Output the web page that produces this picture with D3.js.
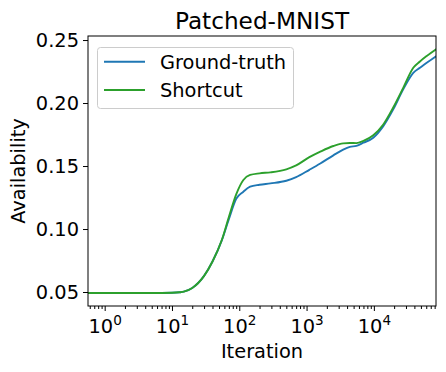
<!DOCTYPE html>
<html>
<head>
<meta charset="utf-8">
<script src="https://cdn.jsdelivr.net/npm/d3@7"></script>
<style>
  body { margin: 0; background: #fff; }
  svg { font-family: "DejaVu Sans", sans-serif; }
</style>
</head>
<body>
<div id="chart"></div>
<script>
// Données
const iterations = [0.5, 1, 2, 5, 10, 13, 15, 20, 30, 40, 55, 70, 90, 115, 145, 200, 290, 500, 700, 1100, 1600, 2500, 3500, 4400, 5500, 7000, 9800, 13800, 19400, 27300, 38500, 48400, 61000, 86000];
const groundTruth = [0.0492, 0.0492, 0.0492, 0.0492, 0.0494, 0.0498, 0.0503, 0.0532, 0.0628, 0.0742, 0.091, 0.1078, 0.124, 0.1296, 0.1336, 0.1351, 0.1362, 0.1383, 0.1412, 0.147, 0.152, 0.1585, 0.163, 0.1652, 0.166, 0.1685, 0.1725, 0.1817, 0.195, 0.2109, 0.224, 0.228, 0.232, 0.2375];
const shortcut = [0.0492, 0.0492, 0.0492, 0.0492, 0.0494, 0.0498, 0.0503, 0.0532, 0.0628, 0.0742, 0.0913, 0.1095, 0.1275, 0.1389, 0.1429, 0.1442, 0.145, 0.1474, 0.1505, 0.157, 0.1614, 0.1659, 0.168, 0.1683, 0.1682, 0.17, 0.1745, 0.183, 0.1965, 0.212, 0.228, 0.233, 0.2373, 0.243];
const seriesNames = ["Ground-truth", "Shortcut"];
const seriesColors = ["#1f77b4", "#2ca02c"];
const yTicks = [0.05, 0.10, 0.15, 0.20, 0.25];
const xTicks = [1, 10, 100, 1000, 10000];

const width = 446, height = 372;
const margin = { top: 36, right: 10, bottom: 66, left: 88 };
const chartWidth = width - margin.left - margin.right;
const chartHeight = height - margin.top - margin.bottom;
const fs = 19.4;

const svg = d3.select("#chart").append("svg")
  .attr("width", width)
  .attr("height", height);

const g = svg.append("g")
  .attr("transform", `translate(${margin.left},${margin.top})`);

// Échelles
const x = d3.scaleLog().domain([0.565, 83800]).range([0, chartWidth]);
const y = d3.scaleLinear().domain([0.0389, 0.2532]).range([chartHeight, 0]);

g.append("clipPath").attr("id", "clip")
  .append("rect").attr("width", chartWidth).attr("height", chartHeight);

// Courbes
const series = [groundTruth, shortcut];
const line = d3.line()
  .x((d, i) => x(iterations[i]))
  .y((d) => y(d))
  .curve(d3.curveMonotoneX);

series.forEach((s, k) => {
  g.append("path")
    .datum(s)
    .attr("clip-path", "url(#clip)")
    .attr("fill", "none")
    .attr("stroke", seriesColors[k])
    .attr("stroke-width", 1.9)
    .attr("d", line);
});

// Cadre
g.append("rect")
  .attr("width", chartWidth)
  .attr("height", chartHeight)
  .attr("fill", "none")
  .attr("stroke", "#000")
  .attr("stroke-width", 1);

// Axe Y
const yAxis = g.append("g")
  .call(d3.axisLeft(y).tickValues(yTicks).tickFormat(d3.format(".2f")).tickSize(5).tickPadding(4));
yAxis.select(".domain").remove();
yAxis.selectAll("text").attr("font-size", fs).attr("font-family", "DejaVu Sans").attr("fill", "#000");

// Axe X (ticks majeurs + mineurs)
const minorTicks = [];
for (let e = -1; e <= 4; e++) {
  for (let m = 2; m <= 9; m++) {
    const v = m * Math.pow(10, e);
    if (v >= x.domain()[0] && v <= x.domain()[1]) minorTicks.push(v);
  }
}
const xMinor = g.append("g")
  .attr("transform", `translate(0,${chartHeight})`)
  .call(d3.axisBottom(x).tickValues(minorTicks).tickFormat("").tickSize(3));
xMinor.select(".domain").remove();

const xAxis = g.append("g")
  .attr("transform", `translate(0,${chartHeight})`)
  .call(d3.axisBottom(x).tickValues(xTicks).tickFormat("").tickSize(5));
xAxis.select(".domain").remove();

xAxis.selectAll(".tick").each(function (d) {
  const t = d3.select(this).append("text")
    .attr("y", 27)
    .attr("fill", "#000")
    .attr("font-size", fs)
    .attr("font-family", "DejaVu Sans")
    .attr("text-anchor", "middle");
  t.append("tspan").text("10");
  t.append("tspan").attr("dy", -8).attr("font-size", 13.6).text(Math.round(Math.log10(d)));
});

// Titres
svg.append("text")
  .attr("x", margin.left + chartWidth / 2)
  .attr("y", 29)
  .attr("text-anchor", "middle")
  .attr("font-size", 23.2)
  .text("Patched-MNIST");

svg.append("text")
  .attr("x", margin.left + chartWidth / 2)
  .attr("y", 358)
  .attr("text-anchor", "middle")
  .attr("font-size", fs)
  .text("Iteration");

svg.append("text")
  .attr("transform", `translate(25,${margin.top + chartHeight / 2}) rotate(-90)`)
  .attr("text-anchor", "middle")
  .attr("font-size", fs)
  .text("Availability");

// Légende
const legend = svg.append("g");
legend.append("rect")
  .attr("x", 97.5).attr("y", 47.5)
  .attr("width", 196).attr("height", 61)
  .attr("rx", 3)
  .attr("fill", "#fff").attr("fill-opacity", 0.8)
  .attr("stroke", "#cccccc");

seriesNames.forEach((name, k) => {
  const ly = 61.7 + k * 28.3;
  legend.append("line")
    .attr("x1", 104).attr("x2", 145)
    .attr("y1", ly).attr("y2", ly)
    .attr("stroke", seriesColors[k])
    .attr("stroke-width", 1.9);
  legend.append("text")
    .attr("x", 160).attr("y", ly + 7)
    .attr("font-size", fs)
    .text(name);
});
</script>
</body>
</html>
